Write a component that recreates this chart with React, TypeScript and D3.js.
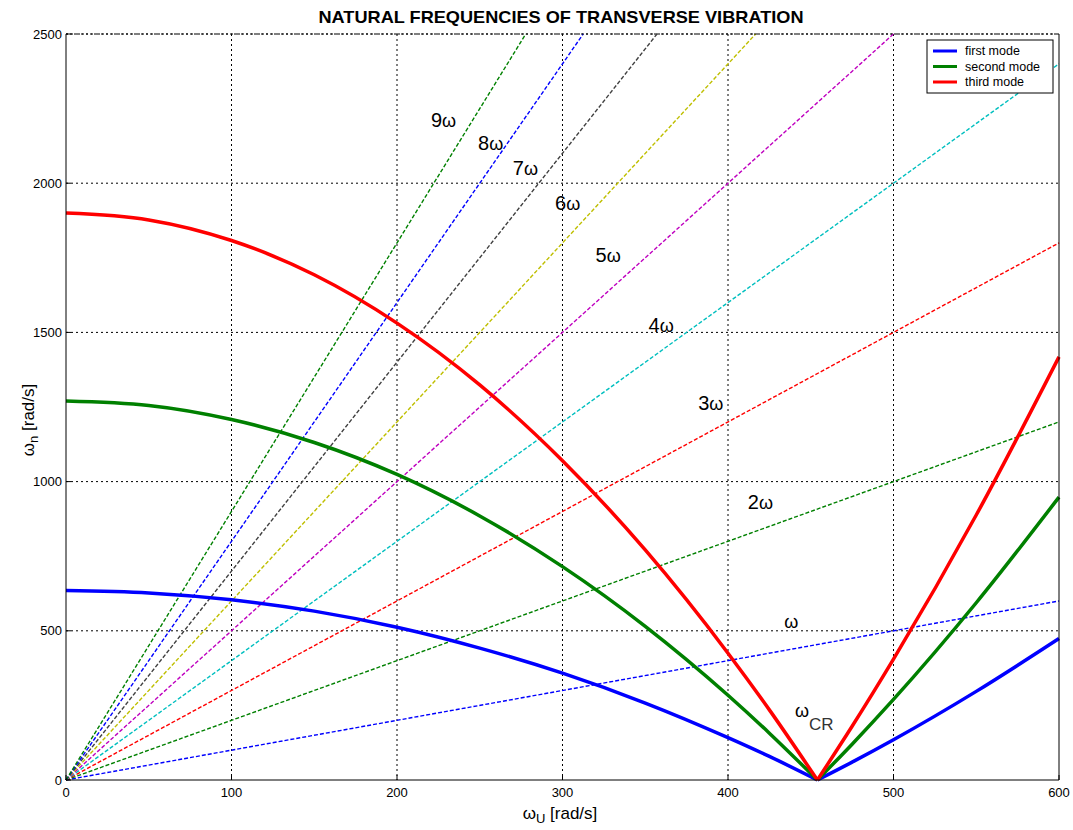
import React from "react";
import * as d3 from "d3";

// ---- data ----
const omegaLeft = [0, 50, 100, 150, 200, 250, 300, 350, 400, 425, 454];
const omegaRight = [454, 475, 500, 550, 600];

const firstLeft = [635, 627, 604, 566, 512, 442, 358, 258, 142, 79, 0];
const firstRight = [0, 60, 135, 297, 474];
const secondLeft = [1270, 1255, 1208, 1131, 1024, 885, 715, 515, 284, 157, 0];
const secondRight = [0, 120, 270, 594, 948];
const thirdLeft = [1900, 1877, 1808, 1693, 1531, 1324, 1070, 771, 425, 235, 0];
const thirdRight = [0, 180, 405, 888, 1418];

const modeNames = ["first mode", "second mode", "third mode"];
const modeColors = ["#0000ff", "#008000", "#ff0000"];

const rayLabels = ["ω", "2ω", "3ω", "4ω", "5ω", "6ω", "7ω", "8ω", "9ω"];
const rayMult = ["", "2", "3", "4", "5", "6", "7", "8", "9"];
const rayEndX = [600, 600, 600, 600, 500, 416.7, 357.1, 312.5, 277.8];
const rayEndY = [600, 1200, 1800, 2400, 2500, 2500, 2500, 2500, 2500];
const rayColors = ["#0000ff", "#008000", "#ff0000", "#00bfbf", "#bf00bf", "#bfbf00", "#404040", "#0000ff", "#008000"];
const rayLabelX = [434, 412, 382, 352, 320, 295.5, 270, 249, 220.5];
const rayLabelY = [509, 908, 1240, 1501, 1736, 1910, 2027, 2111, 2188];

const xTicks = [0, 100, 200, 300, 400, 500, 600];
const yTicks = [0, 500, 1000, 1500, 2000, 2500];

const crLabelX = 440.5;
const crLabelY = 211;

export default function App() {
  const W = 1073, H = 830;
  const L = 66, R = 1059, T = 34, B = 780;
  const x = d3.scaleLinear().domain([0, 600]).range([L, R]);
  const y = d3.scaleLinear().domain([0, 2500]).range([B, T]);
  const line = d3
    .line<[number, number]>()
    .x((d) => x(d[0]))
    .y((d) => y(d[1]))
    .curve(d3.curveMonotoneX);
  const straight = d3
    .line<[number, number]>()
    .x((d) => x(d[0]))
    .y((d) => y(d[1]));

  const modes = [
    [firstLeft, firstRight],
    [secondLeft, secondRight],
    [thirdLeft, thirdRight],
  ];

  const font = "'Liberation Sans', Arial, sans-serif";

  return (
    <svg
      width={W}
      height={H}
      style={{ position: "absolute", left: 0, top: 0, background: "#fff" }}
      fontFamily={font}
    >
      <rect x={0} y={0} width={W} height={H} fill="#fff" />
      <text x={561} y={23} textAnchor="middle" fontWeight="bold" fontSize={17} textLength={485} lengthAdjust="spacingAndGlyphs">
        NATURAL FREQUENCIES OF TRANSVERSE VIBRATION
      </text>
      {/* grid */}
      {xTicks.slice(1, -1).map((t) => (
        <line key={"gx" + t} x1={x(t)} x2={x(t)} y1={T} y2={B} stroke="#000" strokeWidth={1} strokeDasharray="2,3" />
      ))}
      {yTicks.slice(1).map((t) => (
        <line key={"gy" + t} x1={L} x2={R} y1={y(t)} y2={y(t)} stroke="#000" strokeWidth={1} strokeDasharray="2,3" />
      ))}
      {/* rays */}
      {rayEndX.map((ex, i) => (
        <path
          key={"ray" + i}
          d={straight([[0, 0], [ex, rayEndY[i]]]) || ""}
          fill="none"
          stroke={rayColors[i]}
          strokeWidth={1.4}
          strokeDasharray="4,2"
        />
      ))}
      {/* modes */}
      {modes.map((m, i) => (
        <g key={"mode" + i}>
          <path
            d={line(omegaLeft.map((w, k) => [w, m[0][k]] as [number, number])) || ""}
            fill="none"
            stroke={modeColors[i]}
            strokeWidth={3.5}
          />
          <path
            d={line(omegaRight.map((w, k) => [w, m[1][k]] as [number, number])) || ""}
            fill="none"
            stroke={modeColors[i]}
            strokeWidth={3.5}
          />
        </g>
      ))}
      {/* ray labels */}
      {rayLabels.map((lab, i) => (
        <text key={"rl" + i} x={x(rayLabelX[i])} y={y(rayLabelY[i])} fontSize={20} fill="#000">
          {rayMult[i]}
          <tspan fontSize={18}>ω</tspan>
        </text>
      ))}
      <text x={x(crLabelX)} y={y(crLabelY)} fontSize={18} fill="#000">
        ω
        <tspan dx={0} dy={13} fontSize={17} fill="#333">CR</tspan>
      </text>
      {/* axes */}
      <line x1={L} x2={L} y1={T} y2={B} stroke="#000" />
      <line x1={L} x2={R} y1={B} y2={B} stroke="#000" />
      <line x1={R} x2={R} y1={T} y2={B} stroke="#000" />
      <line x1={L} x2={R} y1={T} y2={T} stroke="#000" strokeDasharray="2,2" />
      {xTicks.map((t) => (
        <g key={"xt" + t}>
          <line x1={x(t)} x2={x(t)} y1={B} y2={B - 5} stroke="#000" />
          <text x={x(t)} y={797} textAnchor="middle" fontSize={13}>
            {t}
          </text>
        </g>
      ))}
      {yTicks.map((t) => (
        <g key={"yt" + t}>
          <line x1={L} x2={L + 5} y1={y(t)} y2={y(t)} stroke="#000" />
          <text x={62} y={y(t) + 4.5} textAnchor="end" fontSize={13}>
            {t}
          </text>
        </g>
      ))}
      <text x={560} y={819} textAnchor="middle" fontSize={17}>
        ω<tspan dy={4} fontSize={13}>U</tspan>
        <tspan dy={-4}> [rad/s]</tspan>
      </text>
      <text transform={`translate(34,${420}) rotate(-90)`} textAnchor="middle" fontSize={17}>
        ω<tspan dy={4} fontSize={13}>n</tspan>
        <tspan dy={-4}> [rad/s]</tspan>
      </text>
      {/* legend */}
      <rect x={927} y={40} width={126} height={53} fill="#fff" stroke="#000" />
      {modeNames.map((n, i) => (
        <g key={"lg" + i}>
          <line x1={933} x2={957} y1={51 + i * 15.5} y2={51 + i * 15.5} stroke={modeColors[i]} strokeWidth={3} />
          <text x={965} y={55 + i * 15.5} fontSize={12.5}>
            {n}
          </text>
        </g>
      ))}
    </svg>
  );
}
